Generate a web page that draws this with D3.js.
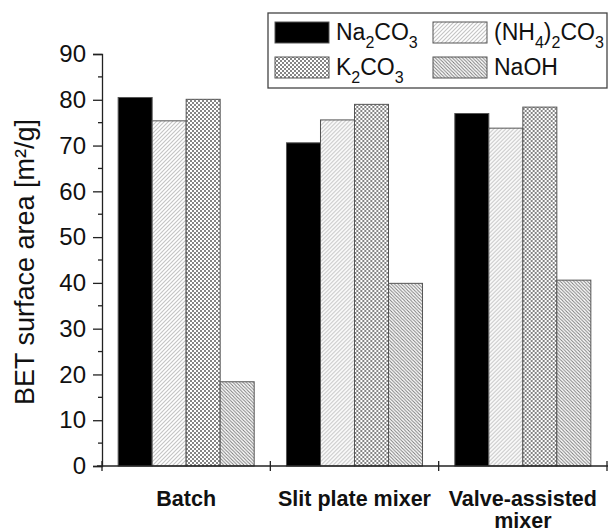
<!DOCTYPE html>
<html>
<head>
<meta charset="utf-8">
<script src="https://cdn.jsdelivr.net/npm/d3@7"></script>
<style>
  html, body { margin: 0; padding: 0; background: #fff; }
  svg { display: block; font-family: Arial, "Liberation Sans", sans-serif; }
</style>
</head>
<body>
<svg id="chart" width="608" height="532"></svg>
<script>
// Mixer types along the x axis (label lines per category)
const categories = ["Batch", "Slit plate mixer", "Valve-assisted mixer"];
const categoryLines = [["Batch"], ["Slit plate mixer"], ["Valve-assisted", "mixer"]];

// Precipitating agents (series)
const seriesKeys = ["Na2CO3", "(NH4)2CO3", "K2CO3", "NaOH"];

// BET surface area [m²/g] per category, one array per series
const na2co3  = [80.5, 70.6, 77.0];
const nh42co3 = [75.4, 75.6, 73.8];
const k2co3   = [80.1, 79.0, 78.4];
const naoh    = [18.4, 39.9, 40.6];

const yTicks = [0, 10, 20, 30, 40, 50, 60, 70, 80, 90];

const seriesValues = [na2co3, nh42co3, k2co3, naoh];

const svg = d3.select("#chart");
const defs = svg.append("defs");

// Fill patterns for the four series
function hatch(id, dir, color, gap, width) {
  const p = defs.append("pattern")
    .attr("id", id).attr("patternUnits", "userSpaceOnUse")
    .attr("width", gap).attr("height", gap);
  p.append("rect").attr("width", gap).attr("height", gap).attr("fill", "#fff");
  const d = dir > 0
    ? `M0,${gap} L${gap},0 M${-gap / 2},${gap / 2} L${gap / 2},${-gap / 2} M${gap / 2},${gap * 1.5} L${gap * 1.5},${gap / 2}`
    : `M0,0 L${gap},${gap} M${-gap / 2},${gap / 2} L${gap / 2},${gap * 1.5} M${gap / 2},${-gap / 2} L${gap * 1.5},${gap / 2}`;
  p.append("path").attr("d", d).attr("stroke", color).attr("stroke-width", width);
}
hatch("pat-nh4", 1, "#c4c4c4", 4, 1.1);
hatch("pat-naoh", -1, "#7a7a7a", 3.4, 1.0);

const chk = defs.append("pattern")
  .attr("id", "pat-k").attr("patternUnits", "userSpaceOnUse")
  .attr("width", 4).attr("height", 4);
chk.append("rect").attr("width", 4).attr("height", 4).attr("fill", "#fff");
chk.append("rect").attr("width", 2).attr("height", 2).attr("fill", "#858585");
chk.append("rect").attr("x", 2).attr("y", 2).attr("width", 2).attr("height", 2).attr("fill", "#858585");

const fills = ["#000", "url(#pat-nh4)", "url(#pat-k)", "url(#pat-naoh)"];

// Scales
const x0 = d3.scaleBand().domain(categories).range([102, 607]).padding(0);
const x1 = d3.scaleBand().domain(seriesKeys).range([0, x0.bandwidth()])
  .paddingInner(0).paddingOuter(0.475);
const y = d3.scaleLinear().domain([0, 90]).range([466, 54]);

// Bars
const groups = svg.append("g").selectAll("g")
  .data(categories).join("g")
  .attr("transform", d => `translate(${x0(d)},0)`);

groups.selectAll("rect")
  .data((c, ci) => seriesKeys.map((k, si) => ({ key: k, si, value: seriesValues[si][ci] })))
  .join("rect")
  .attr("x", d => x1(d.key))
  .attr("y", d => y(d.value))
  .attr("width", x1.bandwidth())
  .attr("height", d => y(0) - y(d.value))
  .attr("fill", d => fills[d.si])
  .attr("stroke", "#555")
  .attr("stroke-width", 1);

// Y axis: major ticks every 10, minor ticks at 5s
const yAxis = d3.axisLeft(y).tickValues(yTicks).tickSize(9).tickPadding(7);
const gy = svg.append("g").attr("transform", "translate(102,0)").call(yAxis);
gy.select(".domain").attr("stroke", "#222").attr("stroke-width", 1.3);
gy.selectAll(".tick line").attr("stroke", "#222").attr("stroke-width", 1.3);
gy.selectAll(".tick text").attr("font-size", 24).attr("fill", "#111")
  .attr("font-family", "Arial, 'Liberation Sans', sans-serif");

const minor = d3.range(5, 90, 10);
svg.append("g").selectAll("line").data(minor).join("line")
  .attr("x1", 98).attr("x2", 102)
  .attr("y1", d => y(d)).attr("y2", d => y(d))
  .attr("stroke", "#222").attr("stroke-width", 1.3);

// X axis line with ticks on category boundaries
const baseY = y(0);
svg.append("line").attr("x1", 97).attr("x2", 608).attr("y1", baseY).attr("y2", baseY)
  .attr("stroke", "#222").attr("stroke-width", 1.3);
const bounds = categories.map(c => x0(c)).concat([x0.range()[1]]);
svg.append("g").selectAll("line").data(bounds).join("line")
  .attr("x1", d => d).attr("x2", d => d)
  .attr("y1", baseY - 5).attr("y2", baseY + 5)
  .attr("stroke", "#222").attr("stroke-width", 1.3);

// Category labels
const catLabels = svg.append("g").selectAll("text")
  .data(categories).join("text")
  .attr("x", d => x0(d) + x0.bandwidth() / 2)
  .attr("y", 506)
  .attr("text-anchor", "middle")
  .attr("font-size", 21.5)
  .attr("font-weight", "bold")
  .attr("fill", "#111");
catLabels.each(function (d, i) {
  const t = d3.select(this);
  categoryLines[i].forEach((line, li) => {
    t.append("tspan").attr("x", x0(d) + x0.bandwidth() / 2)
      .attr("dy", li === 0 ? 0 : 21.5).text(line);
  });
});

// Y axis title
svg.append("text")
  .attr("transform", `translate(34,${(y(0) + y(90)) / 2 + 2}) rotate(-90)`)
  .attr("text-anchor", "middle")
  .attr("font-size", 27)
  .attr("fill", "#111")
  .text("BET surface area [m²/g]");

// Legend
const legend = svg.append("g");
legend.append("rect").attr("x", 268).attr("y", 13).attr("width", 339).attr("height", 75)
  .attr("fill", "#fff").attr("stroke", "#444").attr("stroke-width", 1.3);

const legendItems = [
  { si: 0, col: 0, row: 0, parts: [["Na", 0], ["2", 1], ["CO", 0], ["3", 1]] },
  { si: 1, col: 1, row: 0, parts: [["(NH", 0], ["4", 1], [")", 0], ["2", 1], ["CO", 0], ["3", 1]] },
  { si: 2, col: 0, row: 1, parts: [["K", 0], ["2", 1], ["CO", 0], ["3", 1]] },
  { si: 3, col: 1, row: 1, parts: [["NaOH", 0]] }
];
const colX = [275, 433];
const rowY = [22, 57];

legendItems.forEach(it => {
  legend.append("rect")
    .attr("x", colX[it.col]).attr("y", rowY[it.row])
    .attr("width", 54).attr("height", 21)
    .attr("fill", fills[it.si]).attr("stroke", "#555").attr("stroke-width", 1);
  const t = legend.append("text")
    .attr("x", colX[it.col] + 61).attr("y", rowY[it.row] + 18)
    .attr("font-size", 23).attr("fill", "#111");
  let sub = false;
  it.parts.forEach(([s, isSub]) => {
    const ts = t.append("tspan").text(s);
    if (isSub && !sub) { ts.attr("dy", 8).attr("font-size", 16); sub = true; }
    else if (isSub && sub) { ts.attr("font-size", 16); }
    else if (!isSub && sub) { ts.attr("dy", -8); sub = false; }
  });
});
</script>
</body>
</html>
